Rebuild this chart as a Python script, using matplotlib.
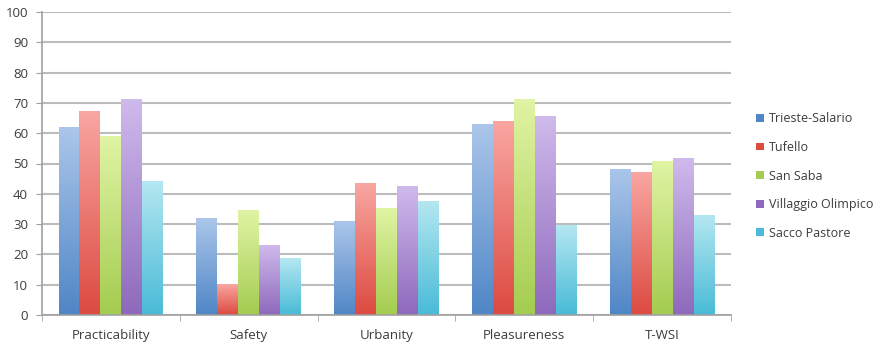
import numpy as np
import matplotlib.pyplot as plt
from matplotlib.colors import LinearSegmentedColormap
from matplotlib.patches import Patch

categories = ['Practicability', 'Safety', 'Urbanity', 'Pleasureness', 'T-WSI']
series = ['Trieste-Salario', 'Tufello', 'San Saba', 'Villaggio Olimpico', 'Sacco Pastore']
trieste = [62, 32, 31, 63, 48]
tufello = [67, 10, 43.5, 64, 47]
san_saba = [59, 34.5, 35, 71, 50.5]
villaggio = [71, 23, 42.5, 65.5, 51.5]
sacco = [44, 18.5, 37.5, 29.5, 33]
values = [trieste, tufello, san_saba, villaggio, sacco]

# (bottom colour, top colour) for each series
shades = [('#4f86c6', '#abc6ea'),
          ('#dc4a40', '#f9a6a2'),
          ('#a4cc50', '#e0f4a4'),
          ('#8e69bc', '#cfbaec'),
          ('#49bbd7', '#b4e7f1')]

plt.rcParams['font.family'] = ['Open Sans', 'DejaVu Sans']

fig = plt.figure(figsize=(8.79, 3.45), dpi=100)
ax = fig.add_axes([42 / 879, 30 / 345, 689 / 879, 303 / 345])

x = np.arange(len(categories))
w = 0.152
grad = np.linspace(0, 1, 256).reshape(-1, 1)
for i, (vals, (lo, hi)) in enumerate(zip(values, shades)):
    cmap = LinearSegmentedColormap.from_list(series[i], [lo, hi])
    pos = x - 2 * w + i * w
    bars = ax.bar(pos, vals, w, color='none', edgecolor='none', zorder=2)
    for b in bars:
        bx, by = b.get_x(), b.get_y()
        ax.imshow(grad, cmap=cmap, origin='lower', aspect='auto',
                  extent=(bx, bx + b.get_width(), by, by + b.get_height()),
                  interpolation='bilinear', zorder=2)

ax.set_xlim(-0.5, len(categories) - 0.5)
ax.set_ylim(0, 100)
ax.set_yticks(range(0, 101, 10))
ax.yaxis.grid(True, color='#bcbcbc', linewidth=1.5)
ax.set_axisbelow(True)

ax.set_xticks(x)
ax.set_xticklabels(categories)
ax.set_xticks(np.arange(-0.5, len(categories)), minor=True)
ax.tick_params(axis='x', which='major', length=0, pad=10, labelsize=9.5, labelcolor='#3c3c3c')
ax.tick_params(axis='x', which='minor', length=4, color='#a0a0a0')
ax.tick_params(axis='y', length=4, color='#a0a0a0', labelsize=9.5, labelcolor='#3c3c3c', pad=6)

for side in ['top', 'right']:
    ax.spines[side].set_visible(False)
for side in ['left', 'bottom']:
    ax.spines[side].set_color('#a0a0a0')
    ax.spines[side].set_linewidth(1.2)

handles = [Patch(facecolor=lo, edgecolor='none') for lo, hi in shades]
fig.legend(handles, series, loc='upper left', bbox_to_anchor=(745 / 879, 1 - 101 / 345),
           frameon=False, fontsize=9, labelcolor='#3c3c3c', handlelength=0.6,
           handleheight=0.6, handletextpad=0.4, labelspacing=1.25)

plt.savefig('out.png', dpi=100)
